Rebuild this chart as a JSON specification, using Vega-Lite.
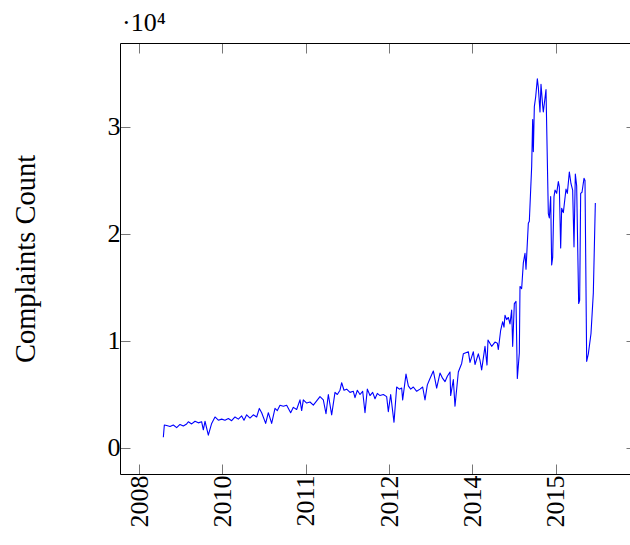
{
  "$schema": "https://vega.github.io/schema/vega-lite/v6.json",
  "width": 510,
  "height": 431,
  "autosize": {"type": "none"},
  "padding": {"left": 120, "top": 43, "right": 0, "bottom": 71},
  "title": {"text": "·10⁴", "anchor": "start", "frame": "group", "fontSize": 26, "font": "Liberation Serif", "fontWeight": "normal", "baseline": "alphabetic", "offset": 13, "dx": 2, "dy": 27, "color": "#000"},
  "data": {"values": [
    {"i":14.6,"v":1000},{"i":15.2,"v":2150},{"i":16.6,"v":2100},{"i":18.6,"v":2000},{"i":20.6,"v":2150},{"i":22.6,"v":1900},{"i":24.6,"v":2200},{"i":26.6,"v":2050},{"i":28.6,"v":2250},{"i":29.6,"v":2450},{"i":31.6,"v":2250},{"i":33.6,"v":2500},{"i":35.6,"v":2350},{"i":37.6,"v":2450},{"i":38.6,"v":1700},{"i":39.6,"v":2500},{"i":41.6,"v":1200},{"i":43.6,"v":2300},{"i":45.6,"v":2900},{"i":47.6,"v":2600},{"i":49.6,"v":2700},{"i":51.6,"v":2600},{"i":53.6,"v":2750},{"i":55.6,"v":2550},{"i":57.6,"v":2900},{"i":59.6,"v":2700},{"i":61.6,"v":3000},{"i":63,"v":2600},{"i":64.6,"v":3100},{"i":66.6,"v":2800},{"i":68.6,"v":3100},{"i":70.6,"v":2900},{"i":72.2,"v":3700},{"i":73.6,"v":3300},{"i":76,"v":2300},{"i":77.6,"v":3300},{"i":79.6,"v":2300},{"i":81.6,"v":3700},{"i":83,"v":3500},{"i":84.6,"v":4000},{"i":86.6,"v":3900},{"i":88.6,"v":4000},{"i":91,"v":3300},{"i":92.6,"v":3800},{"i":94.6,"v":3600},{"i":96.6,"v":4500},{"i":97.6,"v":3500},{"i":98.6,"v":4500},{"i":100.6,"v":4200},{"i":102.6,"v":4300},{"i":104.6,"v":4000},{"i":106.6,"v":4400},{"i":108.6,"v":4800},{"i":110.6,"v":4500},{"i":112.2,"v":3200},{"i":113.6,"v":5000},{"i":115.6,"v":3100},{"i":117.6,"v":5200},{"i":119,"v":5000},{"i":120.6,"v":5400},{"i":121.6,"v":6100},{"i":123,"v":5400},{"i":124.6,"v":5500},{"i":126.6,"v":5200},{"i":128.6,"v":5300},{"i":129.6,"v":4700},{"i":131,"v":5400},{"i":132.6,"v":5000},{"i":134.2,"v":5300},{"i":135.6,"v":3300},{"i":137,"v":5500},{"i":138.6,"v":4900},{"i":140.2,"v":5200},{"i":141.6,"v":4600},{"i":143,"v":5100},{"i":144.6,"v":4900},{"i":146.6,"v":5000},{"i":148.6,"v":4800},{"i":149.6,"v":3400},{"i":151,"v":5000},{"i":153,"v":2400},{"i":154.6,"v":5700},{"i":156.2,"v":5500},{"i":157.6,"v":5600},{"i":158.2,"v":4500},{"i":160.2,"v":6900},{"i":161.6,"v":5800},{"i":163,"v":5500},{"i":164.6,"v":5700},{"i":166.6,"v":5300},{"i":168.6,"v":5500},{"i":170.2,"v":5700},{"i":171.6,"v":4500},{"i":173,"v":5900},{"i":174.6,"v":6500},{"i":176.6,"v":7200},{"i":178.6,"v":5600},{"i":180.6,"v":7000},{"i":182.2,"v":6500},{"i":183.6,"v":6200},{"i":185,"v":6700},{"i":186.6,"v":7100},{"i":187,"v":4900},{"i":188.6,"v":6400},{"i":189.6,"v":3900},{"i":191.6,"v":7100},{"i":193.6,"v":7900},{"i":194.6,"v":8800},{"i":197.6,"v":9000},{"i":198.6,"v":8000},{"i":200.6,"v":9000},{"i":201.6,"v":7800},{"i":203.6,"v":8800},{"i":204.6,"v":8200},{"i":205.6,"v":7300},{"i":207.6,"v":9500},{"i":208.8,"v":7750},{"i":209.4,"v":10100},{"i":211.6,"v":9500},{"i":213.6,"v":9900},{"i":215,"v":9800},{"i":215.6,"v":9200},{"i":217,"v":11000},{"i":218.2,"v":11800},{"i":219,"v":11300},{"i":219.6,"v":12400},{"i":220.6,"v":12000},{"i":221.6,"v":12200},{"i":222.6,"v":11600},{"i":223.6,"v":12900},{"i":224.2,"v":9500},{"i":225.2,"v":13500},{"i":226.2,"v":13700},{"i":227,"v":6500},{"i":228.2,"v":8900},{"i":228.6,"v":15100},{"i":229.6,"v":14900},{"i":230.6,"v":17300},{"i":231.6,"v":18200},{"i":232.2,"v":16700},{"i":233.6,"v":21000},{"i":234.2,"v":21200},{"i":235.6,"v":26300},{"i":236.2,"v":30700},{"i":236.6,"v":27700},{"i":237.2,"v":31900},{"i":238,"v":32800},{"i":239,"v":34500},{"i":239.6,"v":33700},{"i":240.6,"v":31400},{"i":241.2,"v":34000},{"i":242.2,"v":32000},{"i":242.6,"v":31400},{"i":244.2,"v":33500},{"i":245.6,"v":21900},{"i":246.2,"v":21500},{"i":247,"v":23500},{"i":247.6,"v":17100},{"i":248.2,"v":17800},{"i":249,"v":23500},{"i":249.6,"v":24100},{"i":250.6,"v":23800},{"i":251.6,"v":24900},{"i":252.2,"v":24400},{"i":253,"v":18700},{"i":253.6,"v":22400},{"i":254.6,"v":22000},{"i":256.2,"v":24200},{"i":257,"v":23800},{"i":258.2,"v":25800},{"i":259.2,"v":24700},{"i":260.2,"v":24100},{"i":261,"v":18800},{"i":261.8,"v":25600},{"i":262.6,"v":24500},{"i":263.8,"v":13500},{"i":264.4,"v":13800},{"i":265,"v":23800},{"i":265.8,"v":23900},{"i":267,"v":25200},{"i":267.6,"v":25000},{"i":268.6,"v":8100},{"i":269.6,"v":8800},{"i":271.2,"v":10700},{"i":272.6,"v":14500},{"i":273.8,"v":22900}
  ]},
  "layer": [
    {
      "mark": {"type": "line", "color": "#0000ff", "strokeWidth": 1.1, "strokeJoin": "round"},
      "encoding": {
        "x": {"field": "i", "type": "quantitative",
          "scale": {"domain": [-11.4, 294.6], "nice": false, "zero": false},
          "axis": {"orient": "bottom", "title": null, "values": [0, 50, 100, 150, 200, 250],
            "labelExpr": "datum.value == 0 ? '2008' : datum.value == 50 ? '2010' : datum.value == 100 ? '2011' : datum.value == 150 ? '2012' : datum.value == 200 ? '2014' : '2015'",
            "labelAngle": -90, "labelPadding": 11, "labelFontSize": 26, "labelFont": "Liberation Serif", "labelColor": "#000",
            "tickSize": -10, "tickColor": "#777", "tickWidth": 1, "domainColor": "#000", "domainWidth": 1, "grid": false, "labelFlush": false, "labelOverlap": false}},
        "y": {"field": "v", "type": "quantitative",
          "scale": {"domain": [-2430, 37850], "nice": false, "zero": false},
          "axis": {"orient": "left", "title": "Complaints Count", "values": [0, 10000, 20000, 30000],
            "labelExpr": "format(datum.value / 10000, 'd')",
            "labelPadding": 10, "labelFontSize": 26, "labelFont": "Liberation Serif", "labelColor": "#000",
            "titleFont": "Liberation Serif", "titleFontSize": 28.5, "titleFontWeight": "normal", "titleColor": "#000", "titlePadding": 67,
            "tickSize": -10, "tickColor": "#777", "tickWidth": 1, "domainColor": "#000", "domainWidth": 1, "grid": false, "labelFlush": false, "labelOverlap": false}}
      }
    },
    {
      "mark": {"type": "line", "strokeOpacity": 0},
      "encoding": {
        "x": {"field": "i", "type": "quantitative",
          "axis": {"orient": "top", "title": null, "values": [0, 50, 100, 150, 200, 250], "labels": false,
            "tickSize": -10, "tickColor": "#777", "tickWidth": 1, "domainColor": "#000", "domainWidth": 1, "grid": false}},
        "y": {"field": "v", "type": "quantitative",
          "axis": {"orient": "right", "title": null, "values": [0, 10000, 20000, 30000], "labels": false,
            "tickSize": -4, "tickColor": "#777", "tickWidth": 1, "domain": false, "grid": false}}
      }
    }
  ],
  "resolve": {"axis": {"x": "independent", "y": "independent"}},
  "config": {"view": {"stroke": null}, "font": "Liberation Serif"}
}
